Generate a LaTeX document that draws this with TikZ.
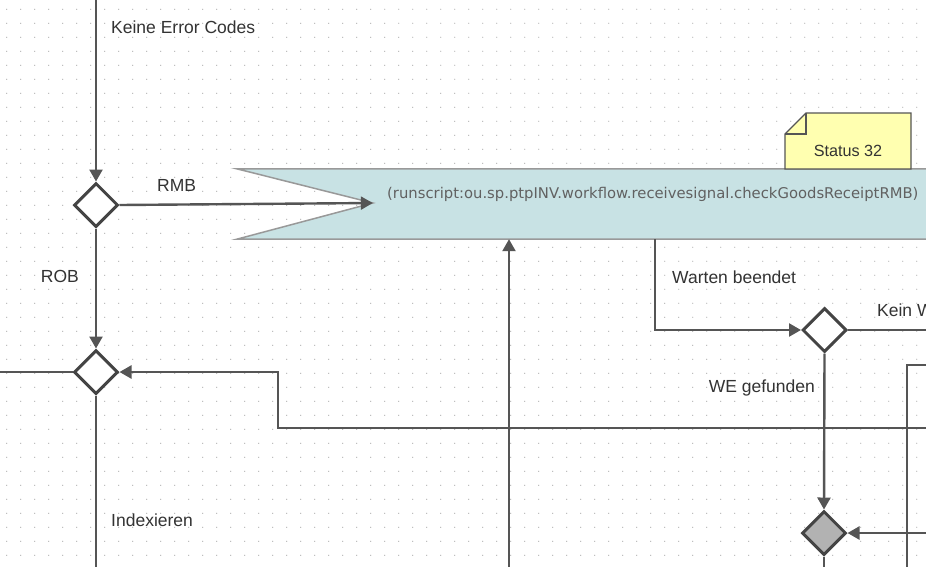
\documentclass[tikz,border=0pt]{standalone}
\usepackage{fontspec}
\setmainfont{Liberation Sans}
\newfontfamily\rsfont{DejaVu Sans}
\usetikzlibrary{shapes.geometric,arrows.meta,calc}
\definecolor{linec}{HTML}{555555}
\definecolor{dmdc}{HTML}{444444}
\definecolor{flagfill}{HTML}{C8E2E4}
\definecolor{notefill}{HTML}{FFFFB0}
\definecolor{dotc}{HTML}{B8B8B8}
\definecolor{txtc}{HTML}{333333}
\tikzset{
  conn/.style={draw=linec, line width=2.4pt},
  arr/.style={-{Triangle[length=12pt,width=13pt]}},
  gate/.style={diamond, draw=dmdc, line width=3pt, fill=white, inner sep=0pt, minimum width=44pt, minimum height=44pt},
  gategray/.style={gate, fill=gray!60},
  lbl/.style={text=txtc, font=\fontsize{17.5}{20}\selectfont, inner sep=0pt},
}
\begin{document}
\begin{tikzpicture}[x=1pt,y=-1pt]
\useasboundingbox (0,0) rectangle (926,566);
\clip (0,0) rectangle (926,566);
\fill[white] (0,0) rectangle (926,566);
% grid dots
\foreach \i in {0,...,66}{
  \foreach \j in {0,...,40}{
    \fill[dotc] (6.7+14*\i, 9.3+14*\j) circle (0.65);
  }
}
% flag shape
\node[minimum width=700pt, minimum height=70pt, inner sep=0pt] (flag) at (587,204) {};
\coordinate (notch) at ($(flag.west)+(136pt,1pt)$);
\filldraw[fill=flagfill, draw=gray!80, line width=1.5pt]
  (flag.north west) -- (flag.north east) -- (flag.south east) -- (flag.south west) -- (notch) -- cycle;
\node[anchor=base west, inner sep=0pt, text=black!62, font=\rsfont\fontsize{14.8}{16}\selectfont] (rs) at (387,198)
  {(runscript:ou.sp.ptpINV.workflow.receivesignal.checkGoodsReceiptRMB)};
% note
\filldraw[fill=notefill, draw=linec, line width=1.3pt]
  (806,113) -- (911,113) -- (911,169) -- (785,169) -- (785,134) -- cycle;
\draw[draw=linec, line width=1.1pt] (806,113) -- (806,134) -- (785,134);
\node[anchor=base, inner sep=0pt, text=txtc, font=\fontsize{16.2}{18}\selectfont] (note) at (848,156) {Status 32};
% gateways
\node[gate] (d1) at (96,205) {};
\node[gate] (d4) at (96,372) {};
\node[gate] (d2) at (824.5,330) {};
\node[gategray] (d3) at (824,533) {};
% free ends
\coordinate (top) at (96,-5);
\coordinate (leftin) at (-5,372);
\coordinate (bot1) at (96,575);
\coordinate (bot2) at (509,575);
\coordinate (loopR) at (935,428);
\coordinate (loopA) at (278,428);
\coordinate (loopB) at (278,372);
\coordinate (fb655) at (flag.south -| 655,0);
\coordinate (c655) at (655,330);
\coordinate (d2out) at (935,330);
\coordinate (d3in) at (935,533);
\coordinate (d3out) at (824,575);
\coordinate (rR) at (935,365);
\coordinate (rC) at (907,365);
\coordinate (rB) at (907,575);
% connectors
\draw[conn, arr] (top) -- (d1.north);
\draw[conn, arr] (d1.east) -- (notch);
\draw[conn, arr] (d1.south) -- (d4.north);
\draw[conn] (leftin) -- (d4.west);
\draw[conn, arr] (loopR) -- (loopA) -- (loopB) -- (d4.east);
\draw[conn] (d4.south) -- (bot1);
\draw[conn, arr] (bot2) -- (flag.south -| bot2);
\draw[conn, arr] (fb655) -- (c655) -- (d2.west);
\draw[conn] (d2.east) -- (d2out);
\draw[conn, arr] (d2.south) -- (d3.north);
\draw[conn, arr] (d3in) -- (d3.east);
\draw[conn] (d3.south) -- (d3out);
\draw[conn] (rR) -- (rC) -- (rB);
% labels
\node[lbl, anchor=base west] (l1) at (111,33) {Keine Error Codes};
\node[lbl, anchor=base west] (l2) at (157,191) {RMB};
\node[lbl, anchor=base east] (l3) at (79,282) {ROB};
\node[lbl, anchor=base west] (l4) at (111,526) {Indexieren};
\node[lbl, anchor=base west] (l5) at (672,283) {Warten beendet};
\node[lbl, anchor=base east] (l6) at (815,392) {WE gefunden};
\node[lbl, anchor=base west] (l7) at (877,316) {Kein WE gefunden};
\end{tikzpicture}
\end{document}
